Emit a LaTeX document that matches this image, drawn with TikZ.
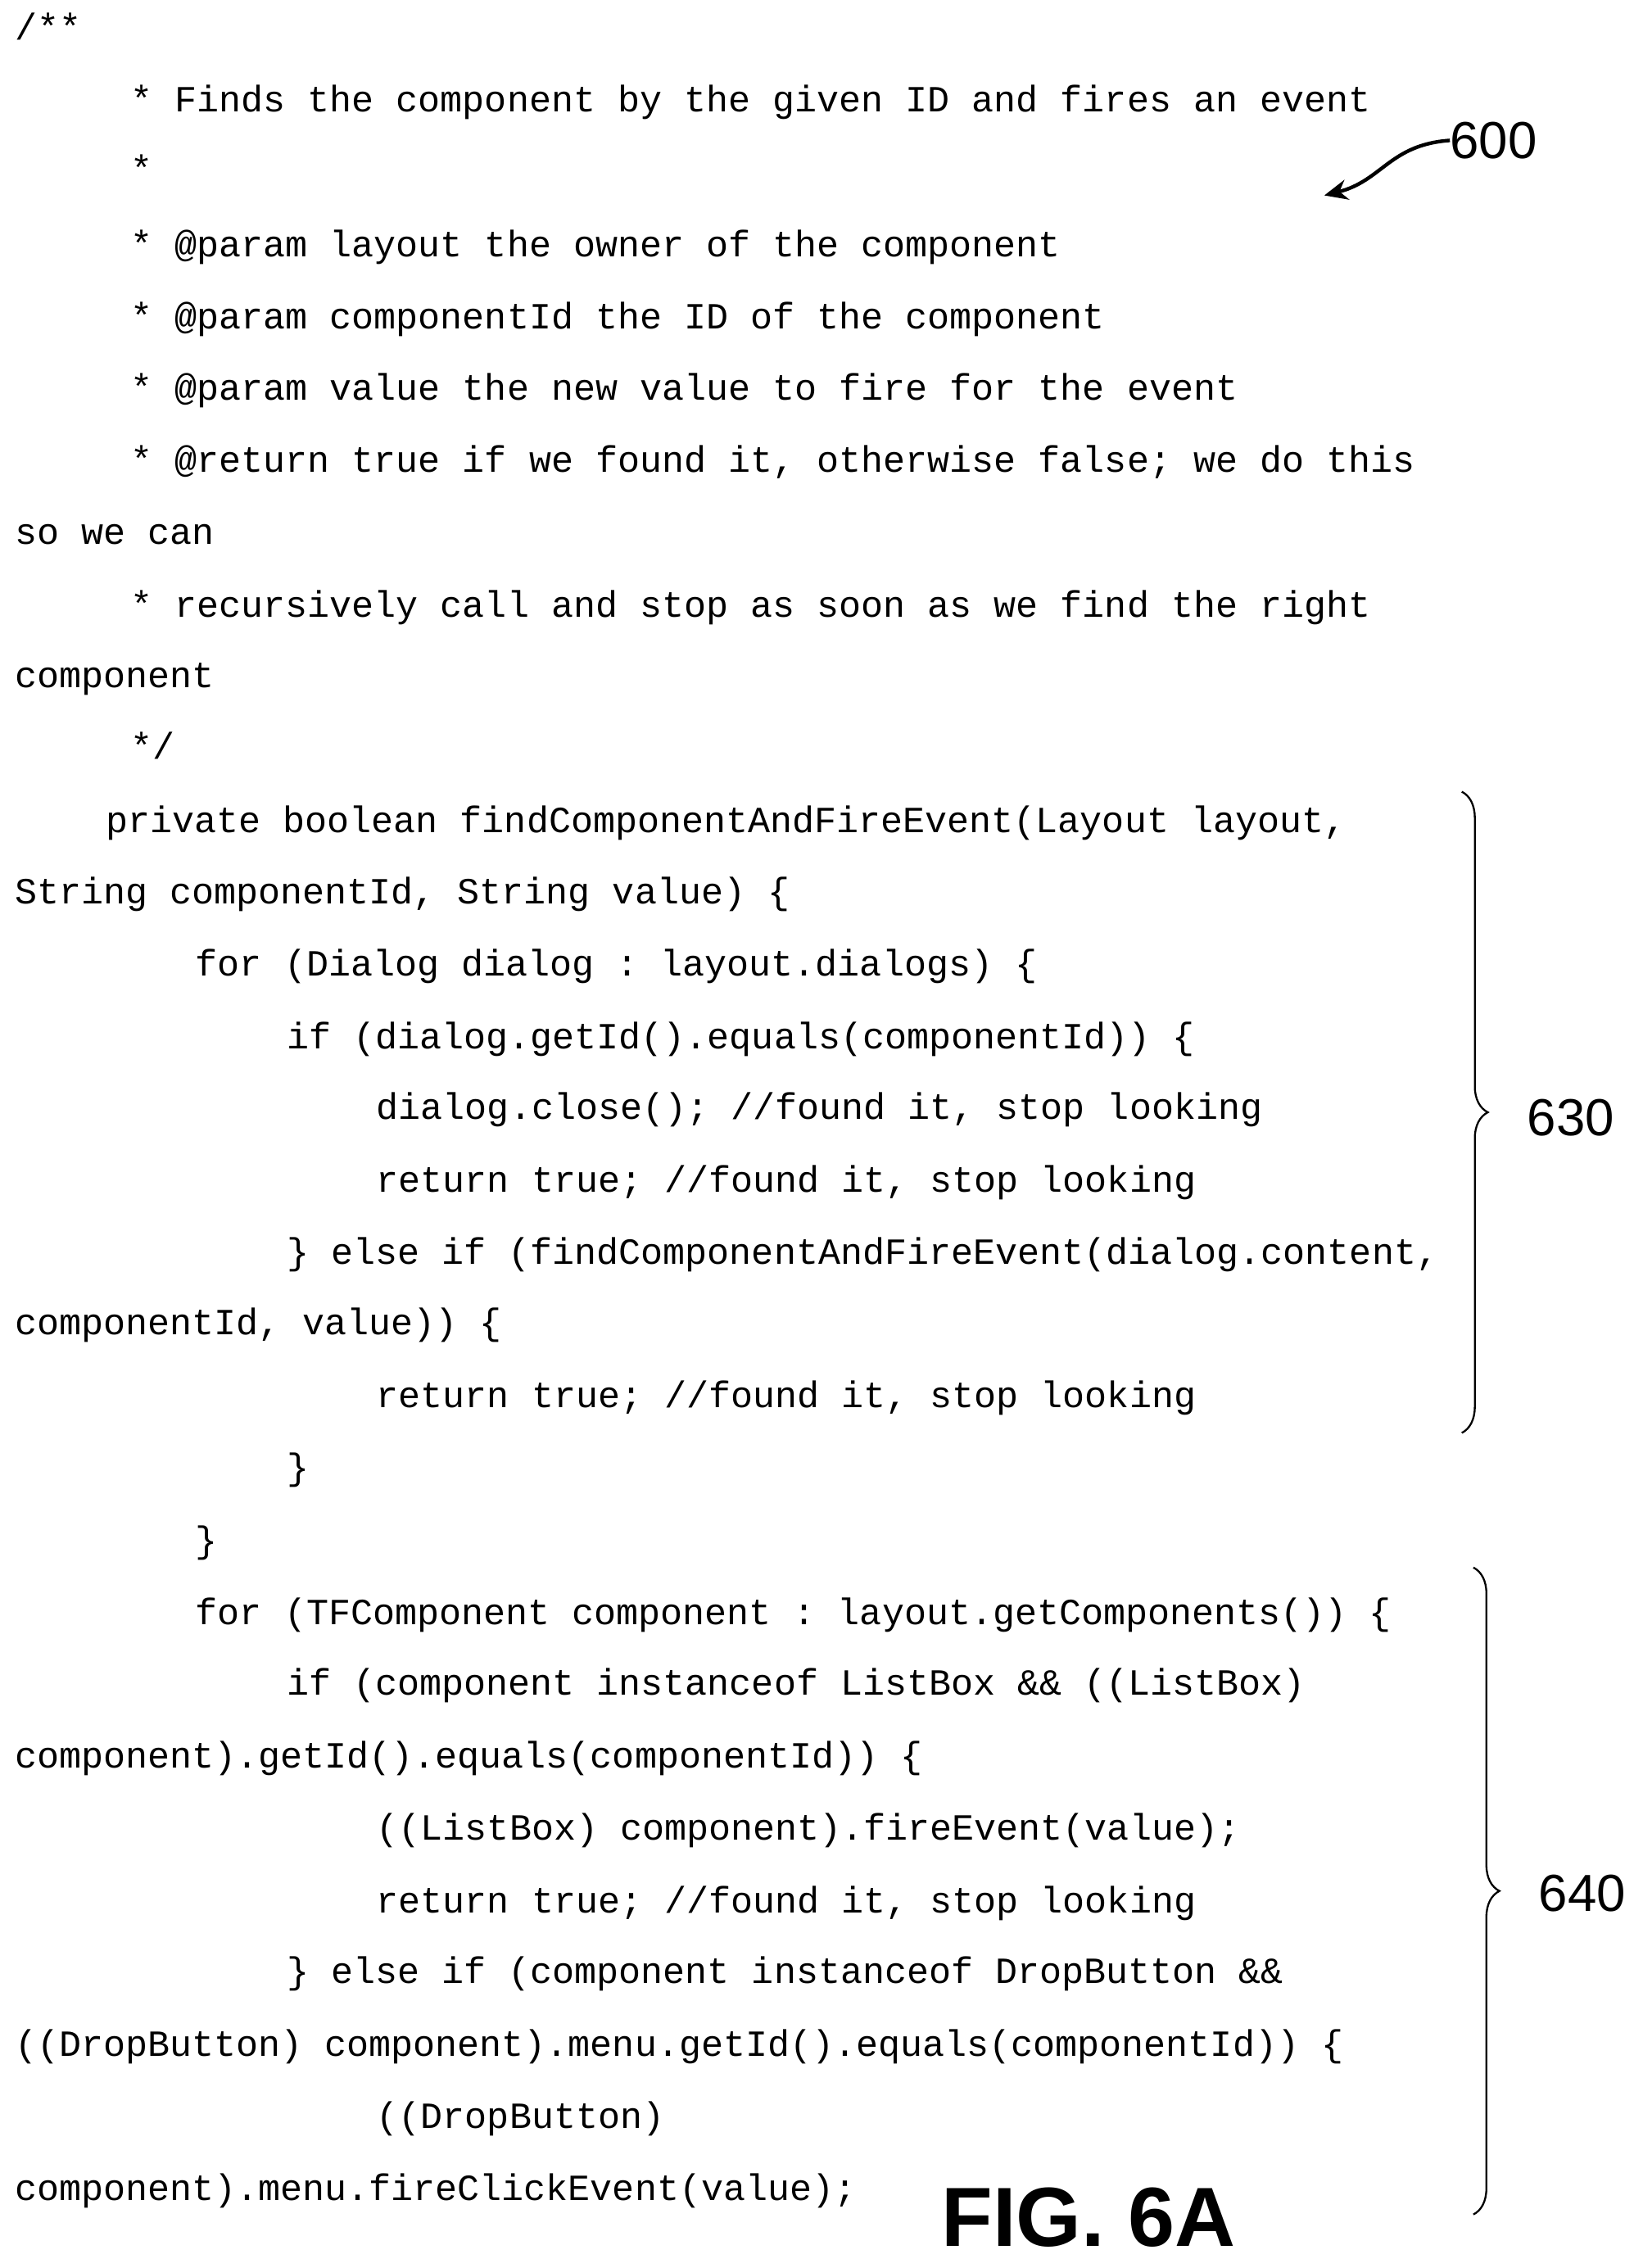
\documentclass[tikz,border=0pt]{standalone}
\usepackage{fontspec}
\setmainfont{Liberation Sans}
\setmonofont{Liberation Mono}
\usetikzlibrary{decorations.pathreplacing,arrows.meta}
\begin{document}
\begin{tikzpicture}[x=1pt,y=-1pt,
  code/.style={anchor=west,inner sep=0pt,font=\fontsize{25.5}{25.5}\ttfamily},
  lbl/.style={inner sep=0pt,font=\fontsize{36}{36}\selectfont},
  bracestyle/.style={line width=1.3pt,decorate,decoration={brace,amplitude=18pt,aspect=0.5}}]
\useasboundingbox (0,0) rectangle (1135,1567);
\def\L#1#2#3#4{\node[code] (#1) at (#2,#3) {\strut #4};}
\L{l1}{10}{22}{/**}
\L{l2}{90}{72}{* Finds the component by the given ID and fires an event}
\L{l3}{90}{120}{*}
\L{l4}{90}{172}{* @param layout the owner of the component}
\L{l5}{90}{222}{* @param componentId the ID of the component}
\L{l6}{90}{271}{* @param value the new value to fire for the event}
\L{l7}{90}{321}{* @return true if we found it, otherwise false; we do this}
\L{l8}{10}{371}{so we can}
\L{l9}{90}{421}{* recursively call and stop as soon as we find the right}
\L{l10}{10}{470}{component}
\L{l11}{90}{519}{*/}
\L{l12}{73}{570}{private boolean findComponentAndFireEvent(Layout layout,}
\L{l13}{10}{619}{String componentId, String value) \{}
\L{l14}{135}{669}{for (Dialog dialog : layout.dialogs) \{}
\L{l15}{198}{719}{if (dialog.getId().equals(componentId)) \{}
\L{l16}{260}{768}{dialog.close(); //found it, stop looking}
\L{l17}{260}{818}{return true; //found it, stop looking}
\L{l18}{198}{868}{\} else if (findComponentAndFireEvent(dialog.content,}
\L{l19}{10}{917}{componentId, value)) \{}
\L{l20}{260}{967}{return true; //found it, stop looking}
\L{l21}{198}{1017}{\}}
\L{l22}{135}{1067}{\}}
\L{l23}{135}{1117}{for (TFComponent component : layout.getComponents()) \{}
\L{l24}{198}{1166}{if (component instanceof ListBox \&\& ((ListBox)}
\L{l25}{10}{1216}{component).getId().equals(componentId)) \{}
\L{l26}{260}{1266}{((ListBox) component).fireEvent(value);}
\L{l27}{260}{1316}{return true; //found it, stop looking}
\L{l28}{198}{1365}{\} else if (component instanceof DropButton \&\&}
\L{l29}{10}{1415}{((DropButton) component).menu.getId().equals(componentId)) \{}
\L{l30}{260}{1465}{((DropButton)}
\L{l31}{10}{1515}{component).menu.fireClickEvent(value);}
\node[lbl] (n600) at (1032,97) {600};
\coordinate (a600) at (915,135);
\draw[line width=2.5pt,-{Stealth[length=16pt,width=14pt]}] (n600.west) .. controls (960,100) and (955,125) .. (a600);
\coordinate (b1) at (1010,547); \coordinate (b2) at (1010,990);
\draw[bracestyle] (b1) -- (b2);
\node[lbl,anchor=west] (n630) at (1055,772) {630};
\coordinate (c1) at (1018,1083); \coordinate (c2) at (1018,1530);
\draw[bracestyle] (c1) -- (c2);
\node[lbl,anchor=west] (n640) at (1063,1308) {640};
\node[inner sep=0pt,font=\fontsize{58}{58}\selectfont\bfseries] (fig) at (752,1532) {FIG. 6A};
\end{tikzpicture}
\end{document}
